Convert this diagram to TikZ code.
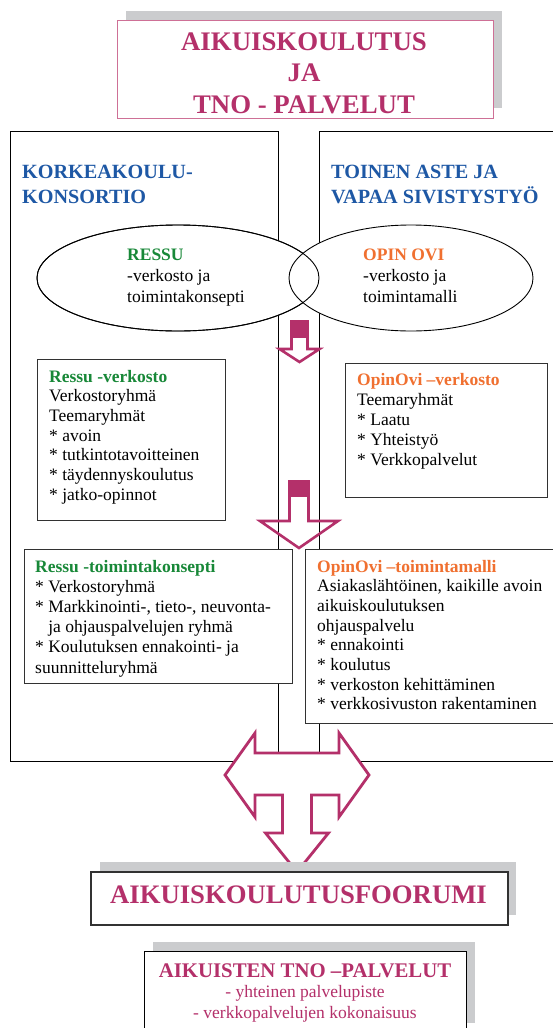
\documentclass[tikz,border=0pt]{standalone}
\usepackage{fontspec}
\setmainfont{Liberation Serif}
\usetikzlibrary{shapes.geometric}
\definecolor{mag}{RGB}{180,48,106}
\definecolor{pinkline}{RGB}{206,112,150}
\definecolor{resgreen}{RGB}{24,136,56}
\definecolor{opinorange}{RGB}{240,112,48}
\definecolor{headblue}{RGB}{30,88,165}
\definecolor{shadowgray}{RGB}{203,204,206}
\definecolor{boxgray}{RGB}{50,50,50}
\newcommand\bodyf{\fontsize{17.5}{19.7}\selectfont}
\newcommand\titlef{\fontsize{26.8}{31.5}\selectfont\bfseries}
\newcommand\headf{\fontsize{20.2}{25}\selectfont\bfseries}
\newcommand\forumf{\fontsize{26.7}{30}\selectfont\bfseries}
\newcommand\tnof{\fontsize{20.8}{24}\selectfont\bfseries}
\newcommand\bul{{*}}
\begin{document}
\begin{tikzpicture}[x=1pt,y=-1pt,
  bigbox/.style={draw=black, line width=1.1pt, inner sep=0pt, anchor=north west},
  inbox/.style={draw=boxgray, line width=1.2pt, fill=white, inner sep=0pt, anchor=north west},
  shadowbox/.style={fill=shadowgray},
  txt/.style={inner sep=0pt, anchor=base west, font=\bodyf},
  ell/.style={ellipse, draw=black, line width=0.9pt, fill=white, inner sep=0pt},
  blockarrow/.style={draw=mag, line width=2.6pt, line join=miter},
  arrowblock/.style={fill=mag}
]
\useasboundingbox (0,0) rectangle (553,1028);
\fill[white] (0,0) rectangle (553,1028);

% title
\fill[shadowbox] (126,11) rectangle (502,108);
\node[draw=pinkline, line width=1.3pt, fill=white, inner sep=0pt, anchor=north west,
      minimum width=376pt, minimum height=98pt] (tbox) at (117,20) {};
\node[inner sep=0pt, anchor=base, font=\titlef, text=mag] (title) at (304,50)
  {\begin{tabular}[t]{@{}c@{}}AIKUISKOULUTUS\\JA\\TNO - PALVELUT\end{tabular}};

% big boxes
\node[bigbox, minimum width=268pt, minimum height=630pt] (left) at (10,131) {};
\node[bigbox, minimum width=241pt, minimum height=630pt] (right) at (319,131) {};
\node[inner sep=0pt, anchor=base west, font=\headf, text=headblue] (lhead) at (22,178)
  {\begin{tabular}[t]{@{}l@{}}KORKEAKOULU-\\KONSORTIO\end{tabular}};
\node[inner sep=0pt, anchor=base west, font=\headf, text=headblue] (rhead) at (331,178)
  {\begin{tabular}[t]{@{}l@{}}TOINEN ASTE JA\\VAPAA SIVISTYSTYÖ\end{tabular}};

% ellipses
\node[ell, minimum width=282pt, minimum height=106pt] (eL) at (178,278) {};
\node[ell, minimum width=244pt, minimum height=106pt] (eR) at (411,278) {};
\draw[line width=0.9pt] (eL.center) ellipse [x radius=141, y radius=53];
\node[txt] (eLt) at (127,260) {\fontsize{17.5}{21}\selectfont\begin{tabular}[t]{@{}l@{}}\textcolor{resgreen}{\textbf{RESSU}}\\-verkosto ja\\toimintakonsepti\end{tabular}};
\node[txt] (eRt) at (363,260) {\fontsize{17.5}{21}\selectfont\begin{tabular}[t]{@{}l@{}}\textcolor{opinorange}{\textbf{OPIN OVI}}\\-verkosto ja\\toimintamalli\end{tabular}};

% small arrows
\fill[arrowblock] (290,320) rectangle (309,338);
\draw[blockarrow] (291.5,336) -- (291.5,349) -- (279.5,349) -- (299.5,362) -- (319.5,349) -- (307.5,349) -- (307.5,336);
\fill[arrowblock] (288,480) rectangle (310,497);
\draw[blockarrow] (289.5,495) -- (289.5,521) -- (260,521) -- (299,548) -- (338,521) -- (308.5,521) -- (308.5,495);

% inner boxes
\node[inbox, minimum width=188pt, minimum height=161pt] (rv) at (37,359) {};
\node[txt] (rvt) at (49,382) {\begin{tabular}[t]{@{}l@{}}\textcolor{resgreen}{\textbf{Ressu -verkosto}}\\Verkostoryhmä\\Teemaryhmät\\\bul{} avoin\\\bul{} tutkintotavoitteinen\\\bul{} täydennyskoulutus\\\bul{} jatko-opinnot\end{tabular}};

\node[inbox, minimum width=202pt, minimum height=134pt] (ov) at (345,363) {};
\node[txt] (ovt) at (357,385) {\fontsize{17.5}{20}\selectfont\begin{tabular}[t]{@{}l@{}}\textcolor{opinorange}{\textbf{OpinOvi –verkosto}}\\Teemaryhmät\\\bul{} Laatu\\\bul{} Yhteistyö\\\bul{} Verkkopalvelut\end{tabular}};

\node[inbox, minimum width=268.5pt, minimum height=134pt] (rt) at (23.5,549) {};
\node[txt] (rtt) at (35,572) {\fontsize{17.5}{20.2}\selectfont\begin{tabular}[t]{@{}l@{}}\textcolor{resgreen}{\textbf{Ressu -toimintakonsepti}}\\\bul{} Verkostoryhmä\\\bul{} Markkinointi-, tieto-, neuvonta-\\\hphantom{\bul}\ ja ohjauspalvelujen ryhmä\\\bul{} Koulutuksen ennakointi- ja\\suunnitteluryhmä\end{tabular}};

\node[inbox, minimum width=255pt, minimum height=174pt] (ot) at (305,549) {};
\node[txt] (ott) at (317,572) {\begin{tabular}[t]{@{}l@{}}\textcolor{opinorange}{\textbf{OpinOvi –toimintamalli}}\\Asiakaslähtöinen, kaikille avoin\\aikuiskoulutuksen\\ohjauspalvelu\\\bul{} ennakointi\\\bul{} koulutus\\\bul{} verkoston kehittäminen\\\bul{} verkkosivuston rakentaminen\end{tabular}};

% big double arrow
\draw[draw=mag, line width=2.8pt, fill=white, line join=miter]
  (255,733) -- (225,775) -- (255,817) -- (255,795) -- (282.5,795) -- (282.5,833)
  -- (265.5,833) -- (297,872) -- (328.5,833) -- (311.5,833) -- (311.5,795)
  -- (339,795) -- (339,817) -- (369,775) -- (339,733) -- (339,753) -- (255,753) -- cycle;

% forum
\fill[shadowbox] (100,862) rectangle (516,915);
\node[draw=boxgray, line width=1.5pt, fill=white, inner sep=0pt, anchor=north west,
      minimum width=417pt, minimum height=53pt] (forum) at (90,871) {};
\node[inner sep=0pt, anchor=base, font=\forumf, text=mag] (forumt) at (298.5,903) {AIKUISKOULUTUSFOORUMI};

% TNO services
\fill[shadowbox] (153,942) rectangle (475,1023);
\node[draw=black, line width=1.3pt, fill=white, inner sep=0pt, anchor=north west,
      minimum width=322pt, minimum height=90pt] (tno) at (144,951) {};
\node[inner sep=0pt, anchor=base, font=\tnof, text=mag] (tno1) at (305,977) {AIKUISTEN TNO –PALVELUT};
\node[inner sep=0pt, anchor=base, font=\bodyf, text=mag] (tno2) at (305,997) {- yhteinen palvelupiste};
\node[inner sep=0pt, anchor=base, font=\bodyf, text=mag] (tno3) at (305,1018) {- verkkopalvelujen kokonaisuus};
\end{tikzpicture}
\end{document}
